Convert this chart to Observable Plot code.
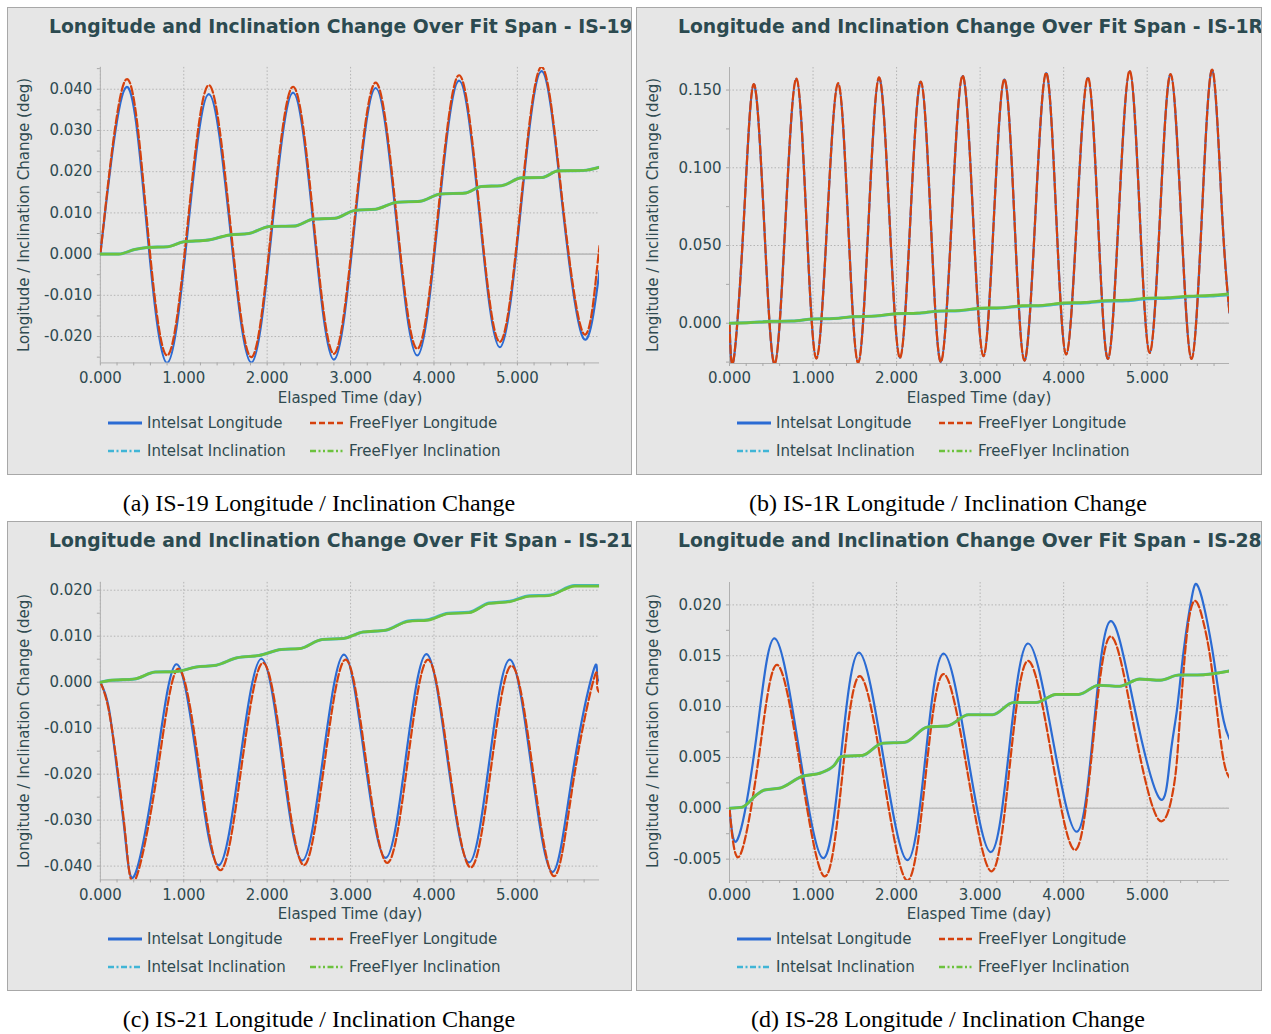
<!DOCTYPE html>
<html><head><meta charset="utf-8">
<script src="https://cdn.jsdelivr.net/npm/d3@7"></script>
<script src="https://cdn.jsdelivr.net/npm/@observablehq/plot@0.6"></script>
<style>
body{margin:0;background:#fff;}
#root{position:relative;width:1271px;height:1034px;overflow:hidden;font-family:"DejaVu Sans",sans-serif;}
.panel{position:absolute;box-sizing:border-box;border:1px solid #a8a8a8;background:#e6e6e6;overflow:hidden;}
.title{position:absolute;left:41px;top:7px;line-height:24px;white-space:nowrap;font-weight:bold;font-size:18.8px;color:#2c4a50;}
.ylab{position:absolute;width:320px;text-align:center;line-height:20px;font-size:15px;color:#2f4a50;transform:rotate(-90deg);white-space:nowrap;}
.xlab{position:absolute;width:300px;text-align:center;line-height:20px;font-size:15px;color:#2f4a50;white-space:nowrap;}
.leg{position:absolute;line-height:20px;font-size:15px;color:#2f4a50;white-space:nowrap;}
.leg svg{position:absolute;left:0;top:7px;}
.leg span{position:absolute;left:39px;top:0;}
.caption{position:absolute;width:600px;text-align:center;font-family:"Liberation Serif",serif;font-size:24px;line-height:28px;color:#000;white-space:nowrap;}
</style>
</head><body><div id="root"></div>
<script>
// ---------- tick labels ----------
const xTicks = [0, 1, 2, 3, 4, 5];
const a_yTicks = [-0.02, -0.01, 0, 0.01, 0.02, 0.03, 0.04];
const b_yTicks = [0, 0.05, 0.1, 0.15];
const c_yTicks = [-0.04, -0.03, -0.02, -0.01, 0, 0.01, 0.02];
const d_yTicks = [-0.005, 0, 0.005, 0.01, 0.015, 0.02];

// ---------- IS-19 ----------
const a_t_lon = [0, 0.31, 0.555, 0.80, 1.05, 1.30, 1.555, 1.81, 2.06, 2.31, 2.555, 2.80, 3.05, 3.30, 3.55, 3.80, 4.05, 4.30, 4.545, 4.79, 5.04, 5.29, 5.54, 5.79, 5.985];
const a_intelLon = [0, 0.0405, 0.0070, -0.0264, 0.0062, 0.0388, 0.0064, -0.0263, 0.0066, 0.0392, 0.0070, -0.0256, 0.0074, 0.0403, 0.0080, -0.0246, 0.0088, 0.0421, 0.0098, -0.0226, 0.0108, 0.0444, 0.0118, -0.0204, -0.0040];
const a_t_ff = [0, 0.31, 0.555, 0.80, 1.05, 1.30, 1.555, 1.81, 2.06, 2.31, 2.555, 2.80, 3.05, 3.30, 3.55, 3.80, 4.05, 4.30, 4.545, 4.79, 5.04, 5.29, 5.54, 5.79, 5.94, 5.985];
const a_ffLon = [0, 0.0424, 0.0088, -0.0246, 0.0080, 0.0410, 0.0080, -0.0250, 0.0082, 0.0406, 0.0085, -0.0242, 0.0088, 0.0416, 0.0094, -0.0230, 0.0102, 0.0434, 0.0110, -0.0213, 0.0120, 0.0454, 0.0128, -0.0192, -0.0063, 0.0020];
const a_t_inc = [0, 0.22, 0.41, 0.56, 0.81, 1.0, 1.29, 1.54, 1.78, 2.03, 2.32, 2.56, 2.81, 3.05, 3.30, 3.56, 3.83, 4.08, 4.37, 4.57, 4.81, 5.05, 5.30, 5.49, 5.79, 5.985];
const a_intelInc = [0, 0, 0.0011, 0.0016, 0.0018, 0.0030, 0.0034, 0.0046, 0.0050, 0.0067, 0.0068, 0.0085, 0.0087, 0.0106, 0.0109, 0.0126, 0.0128, 0.0146, 0.0148, 0.0164, 0.0166, 0.0185, 0.0186, 0.0202, 0.0203, 0.0211];
const a_ffInc = [0, 0, 0.0011, 0.0016, 0.0018, 0.0030, 0.0034, 0.0046, 0.0050, 0.0067, 0.0068, 0.0085, 0.0087, 0.0106, 0.0109, 0.0126, 0.0128, 0.0146, 0.0148, 0.0164, 0.0166, 0.0185, 0.0186, 0.0202, 0.0203, 0.0211];

// ---------- IS-1R ----------
const b_t_lon = [0, 0.05, 0.17, 0.29, 0.415, 0.54, 0.67, 0.80, 0.92, 1.04, 1.17, 1.30, 1.42, 1.54, 1.665, 1.79, 1.915, 2.04, 2.165, 2.29, 2.41, 2.53, 2.66, 2.79, 2.915, 3.04, 3.165, 3.29, 3.41, 3.53, 3.66, 3.79, 3.91, 4.03, 4.16, 4.29, 4.41, 4.53, 4.66, 4.79, 4.91, 5.03, 5.155, 5.28, 5.405, 5.53, 5.655, 5.78, 5.895, 5.985];
const b_intelLon = [0, -0.0234, 0.065, 0.1536, 0.064, -0.0262, 0.066, 0.1572, 0.067, -0.0227, 0.066, 0.1542, 0.065, -0.0255, 0.066, 0.1579, 0.068, -0.0223, 0.067, 0.1553, 0.065, -0.0249, 0.067, 0.1590, 0.069, -0.0212, 0.068, 0.1568, 0.068, -0.0240, 0.068, 0.1609, 0.070, -0.0201, 0.069, 0.1579, 0.068, -0.0230, 0.070, 0.1622, 0.071, -0.0191, 0.071, 0.1601, 0.069, -0.0230, 0.070, 0.1628, 0.072, 0.0066];
const b_ffLon = [0, -0.0234, 0.065, 0.1538, 0.064, -0.0262, 0.066, 0.1574, 0.067, -0.0227, 0.066, 0.1544, 0.065, -0.0255, 0.066, 0.1581, 0.068, -0.0223, 0.067, 0.1555, 0.065, -0.0249, 0.067, 0.1592, 0.069, -0.0212, 0.068, 0.1570, 0.068, -0.0240, 0.068, 0.1611, 0.070, -0.0201, 0.069, 0.1581, 0.068, -0.0230, 0.070, 0.1624, 0.071, -0.0191, 0.071, 0.1603, 0.069, -0.0230, 0.070, 0.1630, 0.072, 0.0066];
const b_t_inc = [0, 0.25, 0.5, 0.75, 1.0, 1.25, 1.5, 1.75, 2.0, 2.25, 2.5, 2.75, 3.0, 3.25, 3.5, 3.75, 4.0, 4.25, 4.5, 4.75, 5.0, 5.25, 5.5, 5.75, 5.985];
const b_intelInc = [0, 0.0004, 0.0012, 0.0014, 0.0027, 0.0030, 0.0042, 0.0046, 0.0061, 0.0064, 0.0077, 0.0080, 0.0095, 0.0098, 0.0110, 0.0113, 0.0127, 0.0130, 0.0142, 0.0145, 0.0158, 0.0161, 0.0171, 0.0175, 0.0184];
const b_ffInc = [0, 0.0004, 0.0012, 0.0014, 0.0027, 0.0030, 0.0043, 0.0047, 0.0062, 0.0065, 0.0079, 0.0082, 0.0097, 0.0100, 0.0113, 0.0116, 0.0131, 0.0134, 0.0146, 0.0149, 0.0162, 0.0165, 0.0175, 0.0179, 0.0189];

// ---------- IS-21 ----------
const c_t_lon = [0, 0.10, 0.20, 0.30, 0.41, 0.66, 0.91, 1.165, 1.42, 1.675, 1.93, 2.175, 2.42, 2.67, 2.92, 3.165, 3.42, 3.665, 3.91, 4.16, 4.42, 4.665, 4.91, 5.165, 5.42, 5.665, 5.91, 5.955, 5.985];
const c_intelLon = [0, -0.0055, -0.0190, -0.0340, -0.0420, -0.0190, 0.0039, -0.0180, -0.0398, -0.0170, 0.0051, -0.0165, -0.0388, -0.0164, 0.0060, -0.0160, -0.0382, -0.0160, 0.0061, -0.0165, -0.0392, -0.0170, 0.0049, -0.0180, -0.0413, -0.0195, 0.0024, 0.0016, 0.0003];
const c_t_ff = [0, 0.10, 0.21, 0.31, 0.42, 0.68, 0.93, 1.185, 1.44, 1.695, 1.95, 2.195, 2.44, 2.69, 2.94, 3.185, 3.44, 3.685, 3.93, 4.18, 4.44, 4.685, 4.93, 5.185, 5.44, 5.68, 5.92, 5.955, 5.985];
const c_ffLon = [0, -0.0060, -0.0195, -0.0350, -0.0429, -0.0200, 0.0029, -0.0185, -0.0409, -0.0180, 0.0042, -0.0175, -0.0398, -0.0172, 0.0049, -0.0170, -0.0393, -0.0172, 0.0049, -0.0180, -0.0403, -0.0185, 0.0036, -0.0190, -0.0422, -0.0205, 0.0009, -0.0004, -0.0022];
const c_t_inc = [0, 0.12, 0.41, 0.66, 0.90, 1.15, 1.39, 1.64, 1.90, 2.17, 2.39, 2.66, 2.91, 3.15, 3.42, 3.69, 3.93, 4.17, 4.42, 4.66, 4.91, 5.15, 5.37, 5.69, 5.985];
const c_intelInc = [0, 0.0004, 0.0007, 0.0022, 0.0023, 0.0033, 0.0037, 0.0053, 0.0058, 0.0071, 0.0073, 0.0093, 0.0095, 0.0109, 0.0113, 0.0133, 0.0136, 0.0150, 0.0152, 0.0172, 0.0176, 0.0188, 0.0189, 0.0210, 0.0210];
const c_ffInc = [0, 0.0004, 0.0007, 0.0022, 0.0023, 0.0033, 0.0037, 0.0053, 0.0058, 0.0071, 0.0073, 0.0093, 0.0095, 0.0109, 0.0113, 0.0132, 0.0135, 0.0149, 0.0151, 0.0171, 0.0175, 0.0187, 0.0188, 0.0209, 0.0209];

// ---------- IS-28 ----------
const d_t_lon = [0, 0.10, 0.32, 0.54, 0.83, 1.12, 1.335, 1.55, 1.84, 2.13, 2.345, 2.56, 2.845, 3.13, 3.35, 3.57, 3.865, 4.16, 4.36, 4.56, 4.855, 5.155, 5.275, 5.355, 5.435, 5.535, 5.595, 5.675, 5.775, 5.835, 5.915, 5.985];
const d_intelLon = [0, -0.0030, 0.0069, 0.0167, 0.0059, -0.0049, 0.0052, 0.0153, 0.0051, -0.0051, 0.0050, 0.0152, 0.0055, -0.0043, 0.0060, 0.0162, 0.0070, -0.0023, 0.0080, 0.0184, 0.0096, 0.0009, 0.0050, 0.0096, 0.0154, 0.0208, 0.0220, 0.0200, 0.0158, 0.0125, 0.0086, 0.0068];
const d_t_ff = [0, 0.12, 0.345, 0.57, 0.855, 1.14, 1.35, 1.56, 1.845, 2.13, 2.345, 2.56, 2.85, 3.14, 3.355, 3.57, 3.855, 4.14, 4.35, 4.56, 4.845, 5.135, 5.315, 5.375, 5.435, 5.495, 5.575, 5.67, 5.755, 5.835, 5.915, 5.985];
const d_ffLon = [0, -0.0047, 0.0047, 0.0141, 0.0037, -0.0067, 0.0032, 0.0130, 0.0030, -0.0071, 0.0030, 0.0132, 0.0035, -0.0062, 0.0042, 0.0145, 0.0052, -0.0041, 0.0064, 0.0169, 0.0079, -0.0011, 0.0020, 0.0069, 0.0135, 0.0184, 0.0204, 0.0184, 0.0148, 0.0096, 0.0047, 0.0030];
const d_t_inc = [0, 0.15, 0.32, 0.42, 0.61, 0.86, 1.10, 1.25, 1.34, 1.59, 1.83, 2.10, 2.37, 2.61, 2.86, 3.15, 3.40, 3.67, 3.91, 4.18, 4.42, 4.67, 4.91, 5.16, 5.38, 5.60, 5.985];
const d_intelInc = [0, 0.0001, 0.0013, 0.0018, 0.0020, 0.0031, 0.0035, 0.0042, 0.0051, 0.0052, 0.0064, 0.0065, 0.0080, 0.0081, 0.0092, 0.0092, 0.0104, 0.0104, 0.0112, 0.0112, 0.0121, 0.0120, 0.0127, 0.0126, 0.0131, 0.0131, 0.0135];
const d_ffInc = [0, 0.0001, 0.0013, 0.0018, 0.0020, 0.0031, 0.0035, 0.0042, 0.0051, 0.0052, 0.0064, 0.0065, 0.0080, 0.0081, 0.0092, 0.0092, 0.0104, 0.0104, 0.0112, 0.0112, 0.0121, 0.0120, 0.0127, 0.0126, 0.0131, 0.0131, 0.0135];

const seriesNames = ["Intelsat Longitude", "FreeFlyer Longitude", "Intelsat Inclination", "FreeFlyer Inclination"];

// ---------- styles ----------
const COL = {blue: "#2b6bd3", red: "#d5410d", cyan: "#40b5d6", green: "#6cc23e"};
const DASH = {red: "8,3", cyan: "6,2.5,2,2.5", green: "6,2.5,2,2.5,2,2.5"};
const TXT = "#2f4a50";
const fmt = d => d.toFixed(3);

const panels = [
  {left: 7, top: 7, h: 468, mt: 59, mb: 45, name: "IS-19", letter: "a", capY: 489, capX: 319,
   yDomain: [-0.0264, 0.0453], yTicks: a_yTicks, yStep: 0.01,
   lon: [[a_t_lon, a_intelLon], [a_t_ff, a_ffLon]], inc: [[a_t_inc, a_intelInc], [a_t_inc, a_ffInc]]},
  {left: 636, top: 7, h: 468, mt: 59, mb: 45, name: "IS-1R", letter: "b", capY: 489, capX: 948,
   yDomain: [-0.0259, 0.1645], yTicks: b_yTicks, yStep: 0.05,
   lon: [[b_t_lon, b_intelLon], [b_t_lon, b_ffLon]], inc: [[b_t_inc, b_intelInc], [b_t_inc, b_ffInc]]},
  {left: 7, top: 521, h: 470, mt: 60, mb: 42, name: "IS-21", letter: "c", capY: 1005, capX: 319,
   yDomain: [-0.0430, 0.0217], yTicks: c_yTicks, yStep: 0.01,
   lon: [[c_t_lon, c_intelLon], [c_t_ff, c_ffLon]], inc: [[c_t_inc, c_intelInc], [c_t_inc, c_ffInc]]},
  {left: 636, top: 521, h: 470, mt: 60, mb: 42, name: "IS-28", letter: "d", capY: 1005, capX: 948,
   yDomain: [-0.0071, 0.0222], yTicks: d_yTicks, yStep: 0.005,
   lon: [[d_t_lon, d_intelLon], [d_t_ff, d_ffLon]], inc: [[d_t_inc, d_intelInc], [d_t_inc, d_ffInc]]}
];

const xDomain = [0, 5.985];
const xMinor = d3.range(1, 30).filter(i => i % 5).map(i => i / 5);

function swatch(color, dash, w) {
  return `<svg width="34" height="6"><line x1="0" x2="34" y1="3" y2="3" stroke="${color}" stroke-width="${w}" ${dash ? `stroke-dasharray="${dash}"` : ""}/></svg>`;
}

const root = document.getElementById("root");

for (const p of panels) {
  const div = document.createElement("div");
  div.className = "panel";
  Object.assign(div.style, {left: p.left + "px", top: p.top + "px", width: (p.left > 600 ? 626 : 625) + "px", height: p.h + "px"});
  root.appendChild(div);

  const title = document.createElement("div");
  title.className = "title";
  title.textContent = "Longitude and Inclination Change Over Fit Span - " + p.name;
  div.appendChild(title);

  const yMinor = d3.range(-20, 20).map(i => (i + 0.5) * p.yStep).filter(v => v > p.yDomain[0] && v < p.yDomain[1]);
  const H = 400;
  const chart = Plot.plot({
    width: 624, height: H,
    marginLeft: 92, marginRight: 32, marginTop: p.mt, marginBottom: p.mb,
    x: {domain: xDomain},
    y: {domain: p.yDomain},
    style: {background: "transparent", fontFamily: "DejaVu Sans", fontSize: "15px", color: TXT, overflow: "visible"},
    marks: [
      Plot.gridX(xTicks, {stroke: "#b4b4b4", strokeOpacity: 1, strokeDasharray: "1.5,2"}),
      Plot.gridY(p.yTicks, {stroke: "#b4b4b4", strokeOpacity: 1, strokeDasharray: "1.5,2"}),
      Plot.ruleY([0], {stroke: "#bdbdbd", strokeWidth: 1.6}),
      Plot.ruleX([xDomain[0]], {stroke: "#b0b0b0"}),
      Plot.ruleY([p.yDomain[0]], {stroke: "#b0b0b0"}),
      Plot.axisX(xTicks, {tickSize: 3, tickPadding: 6, tickFormat: fmt, stroke: "#a8a8a8", fill: TXT}),
      Plot.axisX(xMinor, {tickSize: 3, tickFormat: () => "", stroke: "#a8a8a8"}),
      Plot.axisY(p.yTicks, {tickSize: 3, tickPadding: 5, tickFormat: fmt, stroke: "#a8a8a8", fill: TXT}),
      Plot.axisY(yMinor, {tickSize: 3, tickFormat: () => "", stroke: "#a8a8a8"}),
      Plot.line(p.lon[0][0], {x: p.lon[0][0], y: p.lon[0][1], stroke: COL.blue, strokeWidth: 2.2, curve: "natural", clip: true}),
      Plot.line(p.lon[1][0], {x: p.lon[1][0], y: p.lon[1][1], stroke: COL.red, strokeWidth: 2.2, strokeDasharray: DASH.red, curve: "natural", clip: true}),
      Plot.line(p.inc[0][0], {x: p.inc[0][0], y: p.inc[0][1], stroke: COL.cyan, strokeWidth: 3, curve: "monotone-x", clip: true}),
      Plot.line(p.inc[1][0], {x: p.inc[1][0], y: p.inc[1][1], stroke: COL.green, strokeWidth: 2.6, curve: "monotone-x", clip: true})
    ]
  });
  chart.style.position = "absolute";
  chart.style.left = "0px";
  chart.style.top = "0px";
  div.appendChild(chart);

  const yOff = p.h === 468 ? 0 : 2;
  const ylab = document.createElement("div");
  ylab.className = "ylab";
  ylab.textContent = "Longitude / Inclination Change (deg)";
  Object.assign(ylab.style, {left: (16 - 160) + "px", top: (207 + yOff - 10) + "px"});
  div.appendChild(ylab);

  const xlab = document.createElement("div");
  xlab.className = "xlab";
  xlab.textContent = "Elasped Time (day)";
  Object.assign(xlab.style, {left: (342 - 150) + "px", top: (390 + yOff - 10) + "px"});
  div.appendChild(xlab);

  const legItems = [
    {x: 100, y: 415, c: COL.blue, d: null, w: 3},
    {x: 302, y: 415, c: COL.red, d: "6,3", w: 2.5},
    {x: 100, y: 443, c: COL.cyan, d: DASH.cyan, w: 2.5},
    {x: 302, y: 443, c: COL.green, d: DASH.green, w: 2.5}
  ];
  legItems.forEach((it, i) => {
    const l = document.createElement("div");
    l.className = "leg";
    Object.assign(l.style, {left: it.x + "px", top: (it.y + yOff - 10) + "px"});
    l.innerHTML = swatch(it.c, it.d, it.w) + `<span>${seriesNames[i]}</span>`;
    div.appendChild(l);
  });

  const cap = document.createElement("div");
  cap.className = "caption";
  cap.textContent = `(${p.letter}) ${p.name} Longitude / Inclination Change`;
  Object.assign(cap.style, {left: (p.capX - 300) + "px", top: p.capY + "px"});
  root.appendChild(cap);
}
</script>
</body></html>
